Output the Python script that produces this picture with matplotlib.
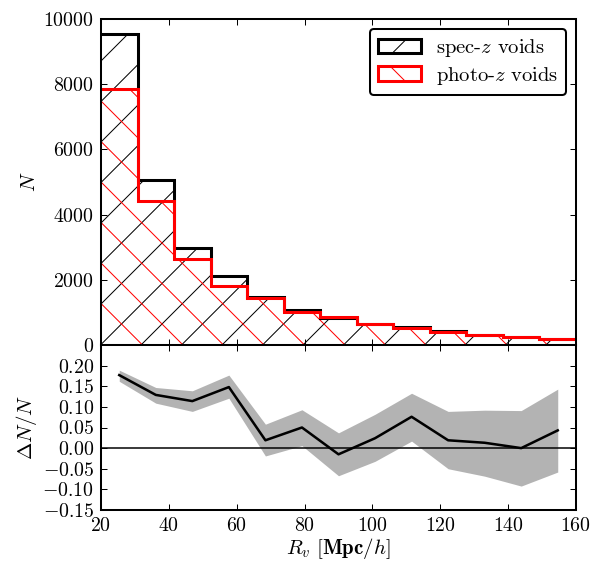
import numpy as np
import matplotlib
matplotlib.use("Agg")
import matplotlib.pyplot as plt
from matplotlib.patches import Rectangle

# Void radius bins [Mpc/h]
bin_edges = [20.0, 30.77, 41.54, 52.31, 63.08, 73.85, 84.62, 95.38,
             106.15, 116.92, 127.69, 138.46, 149.23, 160.0]
bin_centers = [25.38, 36.15, 46.92, 57.69, 68.46, 79.23, 90.0,
               100.77, 111.54, 122.31, 133.08, 143.85, 154.62]

# Void counts per bin
spec_counts = [9530, 5060, 2970, 2110, 1460, 1080, 830, 650, 550, 420, 320, 250, 185]
photo_counts = [7850, 4420, 2640, 1800, 1430, 1025, 845, 635, 510, 412, 316, 250, 177]

# Fractional difference and its uncertainty band
dn_over_n = [0.177, 0.129, 0.114, 0.148, 0.019, 0.050, -0.015,
             0.024, 0.076, 0.019, 0.013, 0.000, 0.043]
band_low = [0.162, 0.109, 0.089, 0.121, -0.019, 0.006, -0.067,
            -0.032, 0.017, -0.050, -0.068, -0.092, -0.058]
band_high = [0.189, 0.147, 0.139, 0.177, 0.058, 0.093, 0.037,
             0.082, 0.133, 0.089, 0.092, 0.091, 0.143]

xticks = [20, 40, 60, 80, 100, 120, 140, 160]
yticks_top = [0, 2000, 4000, 6000, 8000, 10000]
yticks_bot = [-0.15, -0.10, -0.05, 0.00, 0.05, 0.10, 0.15, 0.20]

DPI = 243
FS = 5.9
plt.rcParams.update({
    "font.family": "cmr10",
    "mathtext.fontset": "cm",
    "axes.formatter.use_mathtext": True,
    "font.size": FS,
    "axes.linewidth": 0.6,
    "hatch.linewidth": 0.3,
    "xtick.direction": "in",
    "ytick.direction": "in",
    "xtick.top": True,
    "ytick.right": True,
    "xtick.major.size": 1.8,
    "ytick.major.size": 1.8,
    "xtick.major.width": 0.3,
    "ytick.major.width": 0.3,
    "xtick.major.pad": 2.0,
    "ytick.major.pad": 2.0,
})

fig = plt.figure(figsize=(593 / DPI, 563 / DPI), dpi=DPI)
left, right = 101 / 593, 576 / 593
y_top, y_mid, y_bot = 1 - 19 / 563, 1 - 345 / 563, 1 - 510 / 563
ax1 = fig.add_axes([left, y_mid, right - left, y_top - y_mid])
ax2 = fig.add_axes([left, y_bot, right - left, y_mid - y_bot], sharex=ax1)

# Histograms: hatched fill, then the step outline on top
series = [(spec_counts, "black", "//", r"spec-$z$ voids"),
          (photo_counts, "red", "\\\\", r"photo-$z$ voids")]
handles = []
for counts, color, hatch, label in series:
    ax1.stairs(counts, bin_edges, baseline=0, fill=False, hatch=hatch,
               edgecolor=color, linewidth=0)
for counts, color, hatch, label in series:
    ax1.stairs(counts, bin_edges, baseline=None, fill=False,
               edgecolor=color, linewidth=0.9)
    handles.append(Rectangle((0, 0), 1, 1, fill=False, hatch=hatch,
                             edgecolor=color, linewidth=0.9, label=label))

ax1.set_xlim(20, 160)
ax1.set_ylim(0, 10000)
ax1.set_yticks(yticks_top)
ax1.set_ylabel(r"$N$", fontsize=6.2)
ax1.yaxis.set_label_coords(-0.13, 0.5)
ax1.tick_params(labelbottom=False)
leg = ax1.legend(handles=handles, loc="upper right", fancybox=True,
                 framealpha=1.0, edgecolor="black", handlelength=2.1,
                 handleheight=0.7, borderpad=0.38, labelspacing=0.28,
                 handletextpad=0.7, borderaxespad=0.5, fontsize=6.1)
leg.get_frame().set_linewidth(0.6)

# Fractional difference panel
ax2.fill_between(bin_centers, band_low, band_high, color="0.7", linewidth=0)
ax2.plot(bin_centers, dn_over_n, color="black", linewidth=0.75)
ax2.axhline(0, color="black", linewidth=0.45)
ax2.set_ylim(-0.15, 0.25)
ax2.set_yticks(yticks_bot)
ax2.set_xticks(xticks)
ax2.set_ylabel(r"$\Delta N/N$", fontsize=6.2)
ax2.yaxis.set_label_coords(-0.13, 0.5)
ax2.set_xlabel(r"$R_v\ \mathbf{[Mpc/}h\mathbf{]}$", labelpad=0.3, fontsize=6.2)

fig.savefig("out.png", dpi=DPI)
